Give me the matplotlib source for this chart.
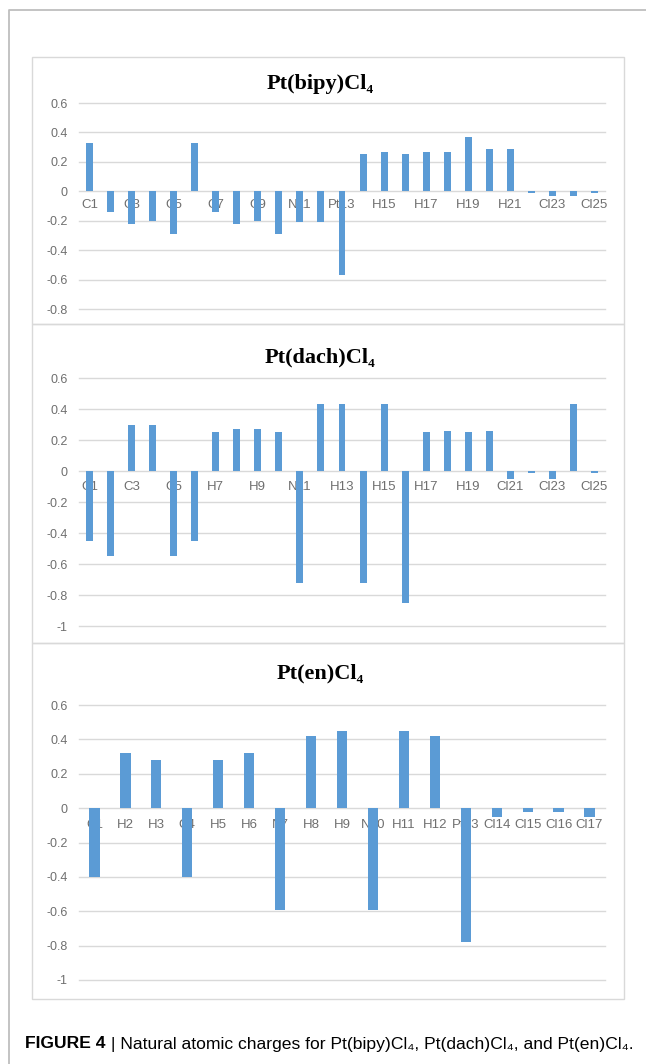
import matplotlib
matplotlib.use('Agg')
import matplotlib.pyplot as plt
from matplotlib.patches import Rectangle
from matplotlib.lines import Line2D

# natural atomic charges, one list of atoms and one of charges per complex
bipy_atoms = ['C1', 'C2', 'C3', 'C4', 'C5', 'C6', 'C7', 'C8', 'C9', 'C10',
              'N11', 'N12', 'Pt13', 'H14', 'H15', 'H16', 'H17', 'H18', 'H19',
              'H20', 'H21', 'Cl22', 'Cl23', 'Cl24', 'Cl25']
bipy_charge = [0.33, -0.14, -0.22, -0.20, -0.29, 0.33, -0.14, -0.22, -0.20, -0.29,
               -0.21, -0.21, -0.57, 0.25, 0.27, 0.25, 0.27, 0.27, 0.37,
               0.29, 0.29, -0.01, -0.03, -0.03, -0.01]

dach_atoms = ['C1', 'C2', 'C3', 'C4', 'C5', 'C6', 'H7', 'H8', 'H9', 'H10',
              'N11', 'H12', 'H13', 'N14', 'H15', 'Pt16', 'H17', 'H18', 'H19',
              'H20', 'Cl21', 'Cl22', 'Cl23', 'H24', 'Cl25']
dach_charge = [-0.45, -0.55, 0.30, 0.30, -0.55, -0.45, 0.25, 0.27, 0.27, 0.25,
               -0.72, 0.43, 0.43, -0.72, 0.43, -0.85, 0.25, 0.26, 0.25,
               0.26, -0.05, -0.01, -0.05, 0.43, -0.01]

en_atoms = ['C1', 'H2', 'H3', 'C4', 'H5', 'H6', 'N7', 'H8', 'H9', 'N10',
            'H11', 'H12', 'Pt13', 'Cl14', 'Cl15', 'Cl16', 'Cl17']
en_charge = [-0.40, 0.32, 0.28, -0.40, 0.28, 0.32, -0.59, 0.42, 0.45, -0.59,
             0.45, 0.42, -0.78, -0.05, -0.02, -0.02, -0.05]

bipy_yticks = [0.6, 0.4, 0.2, 0.0, -0.2, -0.4, -0.6, -0.8]
dach_yticks = [0.6, 0.4, 0.2, 0.0, -0.2, -0.4, -0.6, -0.8, -1.0]
en_yticks = [0.6, 0.4, 0.2, 0.0, -0.2, -0.4, -0.6, -0.8, -1.0]

W, H = 646, 1064
BLUE = '#5B9BD5'
GRID = '#D9D9D9'
LABEL = '#6F6F6F'


def frac_rect(l, t, r, b):
    return [l / W, 1 - b / H, (r - l) / W, (b - t) / H]


fig = plt.figure(figsize=(W / 100, H / 100), dpi=100)

# outer page frame (left and top edges)
fig.add_artist(Line2D([9 / W, 9 / W, 1.0], [0.0, 1 - 10 / H, 1 - 10 / H],
                      color='#BEBEBE', lw=1.3))

panels = [
    ('Pt(bipy)Cl₄', bipy_atoms, bipy_charge, bipy_yticks,
     (79, 103, 605, 309), (32, 57, 624, 324), 84, 2, 5.5),
    ('Pt(dach)Cl₄', dach_atoms, dach_charge, dach_yticks,
     (79, 378, 605, 626), (32, 324, 624, 643), 357, 2, 7.5),
    ('Pt(en)Cl₄', en_atoms, en_charge, en_yticks,
     (79, 705, 605, 980), (32, 643, 624, 999), 673, 1, 8),
]

for title, atoms, charge, yticks, area, box, title_y, step, pad in panels:
    # chart box
    l, t, r, b = box
    fig.add_artist(Rectangle((l / W, 1 - b / H), (r - l) / W, (b - t) / H,
                             transform=fig.transFigure, fill=False,
                             edgecolor=GRID, lw=1))
    fig.text(320 / W, 1 - title_y / H, title, ha='center', va='center',
             fontsize=16, fontweight='bold',
             family=['Liberation Serif', 'DejaVu Serif'])

    ax = fig.add_axes(frac_rect(*area))
    x = list(range(len(atoms)))
    ax.bar(x, charge, width=0.33, color=BLUE, zorder=2)
    ax.set_xlim(-0.5, len(atoms) - 0.5)
    ax.set_ylim(yticks[-1], yticks[0])
    ax.set_axisbelow(True)
    ax.yaxis.grid(True, color=GRID, lw=1)
    ax.set_yticks(yticks, [f'{v:g}' for v in yticks])
    ax.set_xticks(x[::step], atoms[::step])
    ax.spines['bottom'].set_position(('data', 0))
    for s in ax.spines.values():
        s.set_color('none')
    ax.tick_params(axis='y', length=0, pad=8, labelsize=9, labelcolor=LABEL)
    ax.tick_params(axis='x', length=0, pad=pad, labelsize=9.5, labelcolor=LABEL)
    for lab in ax.get_xticklabels() + ax.get_yticklabels():
        lab.set_family('Liberation Sans')
    # keep the outermost gridlines whole at the plot edges
    for gl in ax.get_ygridlines():
        gl.set_clip_on(False)
    ax.patch.set_alpha(0)

# figure caption
cap = fig.text(25 / W, 1 - 1044 / H, 'FIGURE 4', ha='left', va='center',
               fontsize=12.6, fontweight='bold', family='Liberation Sans')
plt.annotate(' | Natural atomic charges for Pt(bipy)Cl₄, Pt(dach)Cl₄, and Pt(en)Cl₄.',
             xy=(1, 0.5), xycoords=cap, ha='left', va='center',
             fontsize=12.6, family=['Liberation Sans', 'DejaVu Sans'],
             annotation_clip=False)

fig.savefig('out.png', dpi=100)
